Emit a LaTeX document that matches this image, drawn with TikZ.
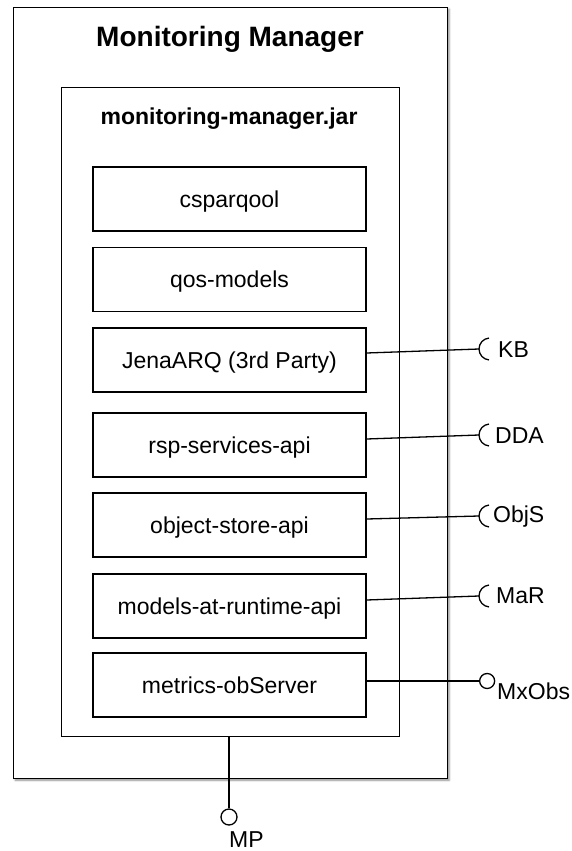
\documentclass[tikz,border=0pt]{standalone}
\usepackage{fontspec}
\setmainfont{Liberation Sans}
\usetikzlibrary{shadows.blur,calc}
\begin{document}
\begin{tikzpicture}[x=1pt,y=-1pt,
  frame/.style={draw=black, line width=1.3pt, fill=white, inner sep=0pt, anchor=north west},
  part/.style={draw=black, line width=1.3pt, fill=white, minimum width=273pt,
    minimum height=64pt, inner sep=0pt, text height=16.5pt, text depth=0pt,
    font=\fontsize{23}{27}\selectfont},
  wire/.style={line width=1.3pt},
  ball/.style={circle, draw=black, line width=1.3pt, fill=white, inner sep=0pt},
  lbl/.style={inner sep=0pt, anchor=base west, font=\fontsize{23}{27}\selectfont},
]
\useasboundingbox (0,0) rectangle (572,851);

% enclosing component and the jar inside it
\node[frame, minimum width=434pt, minimum height=771pt,
  blur shadow={shadow xshift=1.5pt, shadow yshift=-1.5pt, shadow blur radius=2pt, shadow opacity=45}]
  (mm) at (13,7) {};
\node[frame, minimum width=338pt, minimum height=649pt] (jar) at (61,87) {};

\node[anchor=base, inner sep=0pt, font=\bfseries\fontsize{28}{32}\selectfont] (mmtitle) at (230,47) {Monitoring Manager};
\node[anchor=base, inner sep=0pt, font=\bfseries\fontsize{23}{27}\selectfont] (jartitle) at (229,124) {monitoring-manager.jar};

% libraries packed in the jar
\node[part] (csp) at (229.5,199)   {csparqool};
\node[part] (qos) at (229.5,279.5) {qos-models};
\node[part] (jena) at (229.5,360)  {JenaARQ (3rd Party)};
\node[part] (rsp) at (229.5,445)   {rsp-services-api};
\node[part] (obj) at (229.5,525)   {object-store-api};
\node[part] (mar) at (229.5,606)   {models-at-runtime-api};
\node[part] (mx) at (229.5,685)    {metrics-obServer};

% required interfaces (sockets)
\coordinate (kbs) at (479,349);
\coordinate (ddas) at (479,435);
\coordinate (objs) at (479,516);
\coordinate (mars) at (479,596);

\draw[wire] ([yshift=7pt]jena.east) -- (kbs);
\draw[wire] ([yshift=6pt]rsp.east) -- (ddas);
\draw[wire] ([yshift=6pt]obj.east) -- (objs);
\draw[wire] ([yshift=6pt]mar.east) -- (mars);

\foreach \s in {kbs,ddas,objs,mars}{
  \draw[wire] (\s) arc[start angle=180, end angle=95, radius=11pt]
              (\s) arc[start angle=180, end angle=265, radius=11pt];
}

\node[lbl] (kb) at (498,357) {KB};
\node[lbl] (dda) at (495,443) {DDA};
\node[lbl] (objl) at (493,522) {ObjS};
\node[lbl] (marl) at (496,603) {MaR};

% provided interfaces (lollipops)
\node[ball, minimum size=15pt, anchor=west] (mxball) at (479,681) {};
\draw[wire] ([yshift=4pt]mx.east) -- (mxball.west);
\node[lbl] (mxl) at (497,699) {MxObs};

\node[ball, minimum size=16pt] (mpball) at (229,817) {};
\draw[wire] (mpball |- jar.south) -- (mpball.north);
\node[lbl] (mpl) at (229,847) {MP};
\end{tikzpicture}
\end{document}
